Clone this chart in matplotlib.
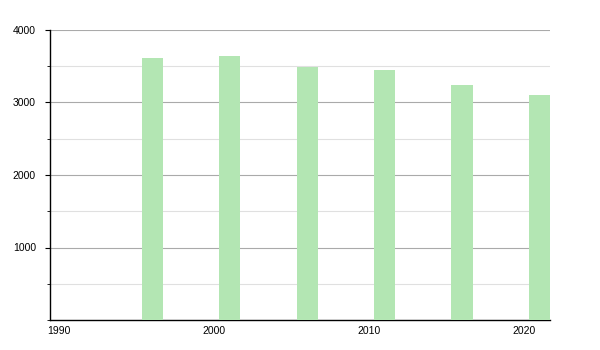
import matplotlib
matplotlib.use("Agg")
import matplotlib.pyplot as plt
from matplotlib.ticker import MultipleLocator

years = [1996, 2001, 2006, 2011, 2016, 2021]
population = [3617, 3639, 3492, 3454, 3246, 3107]
x_ticks = [1990, 2000, 2010, 2020]
y_ticks = [1000, 2000, 3000, 4000]

plt.rcParams["font.family"] = ["Liberation Sans", "DejaVu Sans"]

fig = plt.figure(figsize=(6, 3.5), dpi=100)
ax = fig.add_axes([50 / 600, 1 - 320 / 350, 500 / 600, 290 / 350])

ax.bar(years, population, width=1.36, color="#b3e6b3", zorder=3)

ax.set_xlim(1989.4, 2021.68)
ax.set_ylim(0, 4000)
ax.set_xticks(x_ticks)
ax.set_yticks(y_ticks)
ax.yaxis.set_minor_locator(MultipleLocator(500))

ax.grid(axis="y", which="major", color="#aaaaaa", linewidth=0.8, zorder=0)
ax.grid(axis="y", which="minor", color="#e0e0e0", linewidth=0.8, zorder=0)

ax.spines["top"].set_visible(False)
ax.spines["right"].set_visible(False)
ax.spines["left"].set_color("black")
ax.spines["bottom"].set_color("black")
ax.spines["left"].set_linewidth(1.0)
ax.spines["bottom"].set_linewidth(1.0)

ax.tick_params(axis="x", length=0, labelsize=7.5, pad=4)
ax.tick_params(axis="y", which="major", length=3.6, labelsize=7.5, pad=6.5)
ax.tick_params(axis="y", which="minor", length=2)

fig.savefig("out.png", dpi=100)
